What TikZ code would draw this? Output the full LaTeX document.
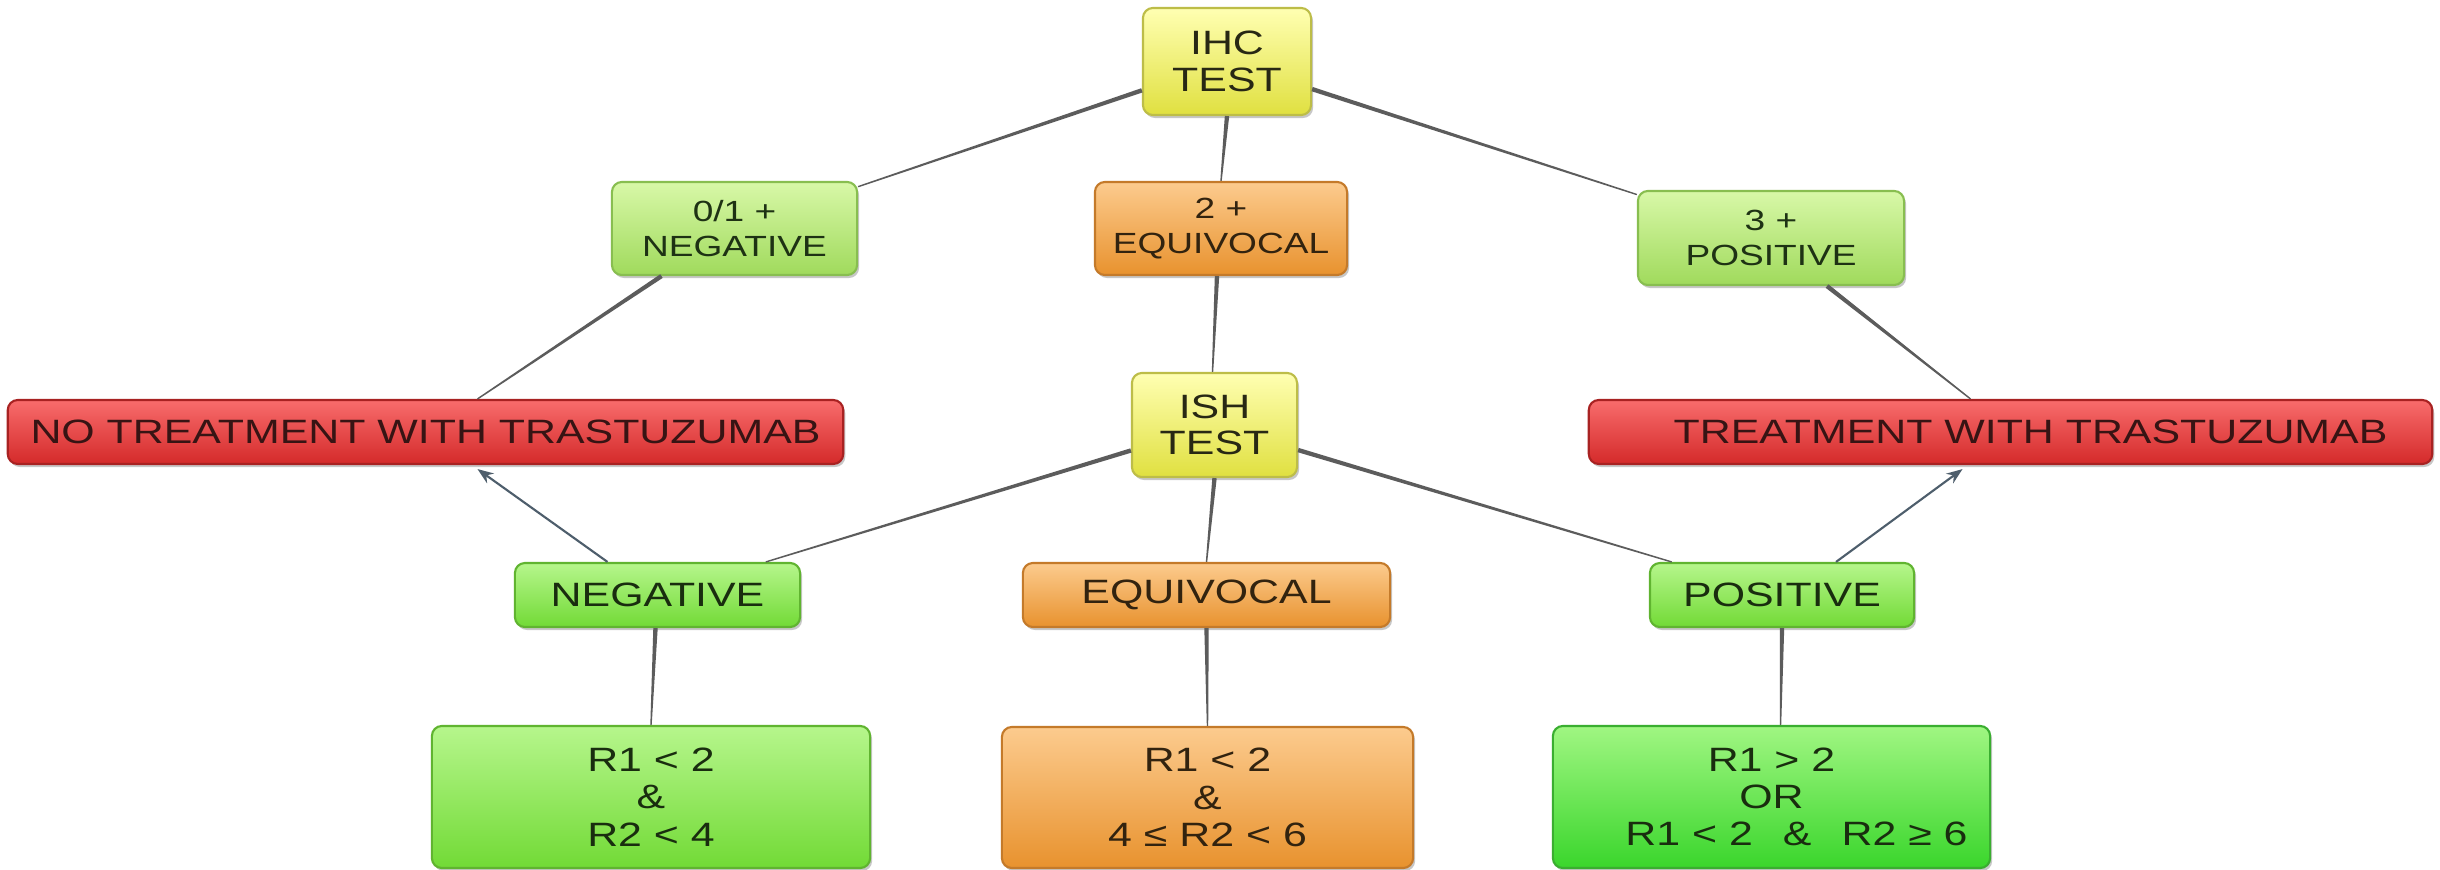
\documentclass[tikz,border=0pt]{standalone}
\usepackage{fontspec}
\setmainfont[FakeStretch=1.27]{Liberation Sans}
\usetikzlibrary{arrows.meta,shadows,calc}

% box fills: light top, darker bottom
\definecolor{ylTop}{HTML}{FFFFB2}
\definecolor{ylMid}{HTML}{F2F26A}
\definecolor{ylBot}{HTML}{E0E040}
\definecolor{ylLine}{HTML}{BDBD48}
\definecolor{lgTop}{HTML}{D8F8A8}
\definecolor{lgMid}{HTML}{B8EC78}
\definecolor{lgBot}{HTML}{A0DA5C}
\definecolor{lgLine}{HTML}{88BE50}
\definecolor{gnTop}{HTML}{B6F68C}
\definecolor{gnMid}{HTML}{8CEA50}
\definecolor{gnBot}{HTML}{72DA36}
\definecolor{gnLine}{HTML}{60B430}
\definecolor{bgTop}{HTML}{A0F682}
\definecolor{bgMid}{HTML}{5AE844}
\definecolor{bgBot}{HTML}{3AD62C}
\definecolor{bgLine}{HTML}{3AAE30}
\definecolor{orTop}{HTML}{FCCB8E}
\definecolor{orMid}{HTML}{F5A955}
\definecolor{orBot}{HTML}{E8922E}
\definecolor{orLine}{HTML}{C47A2A}
\definecolor{rdTop}{HTML}{F86C6C}
\definecolor{rdMid}{HTML}{EC3E3E}
\definecolor{rdBot}{HTML}{D42A2A}
\definecolor{rdLine}{HTML}{A82222}
\definecolor{link}{HTML}{5C5C5C}
\definecolor{arrowc}{HTML}{4E5E6C}

% tapered connector: wide at the parent, narrow at the child
\newcommand\taper[2]{%
  \path (#1) -- (#2) coordinate[pos=0] (tpA) coordinate[pos=1] (tpB);
  \fill[link] ($(tpA)!0.022cm!90:(tpB)$) -- ($(tpA)!0.022cm!-90:(tpB)$)
    -- ($(tpB)!0.007cm!90:(tpA)$) -- ($(tpB)!0.007cm!-90:(tpA)$) -- cycle;}

\tikzset{
  box/.style={rounded corners=0.1cm, draw, line width=0.6pt, align=center,
    inner sep=0pt,
    drop shadow={shadow xshift=0.02cm, shadow yshift=-0.03cm, opacity=0.22, fill=black}},
  ylbox/.style={box, draw=ylLine, top color=ylTop, middle color=ylMid, bottom color=ylBot, text={rgb,255:red,40;green,40;blue,20}},
  lgbox/.style={box, draw=lgLine, top color=lgTop, middle color=lgMid, bottom color=lgBot, text={rgb,255:red,30;green,50;blue,20}},
  gnbox/.style={box, draw=gnLine, top color=gnTop, middle color=gnMid, bottom color=gnBot, text={rgb,255:red,25;green,45;blue,15}},
  bgbox/.style={box, draw=bgLine, top color=bgTop, middle color=bgMid, bottom color=bgBot, text={rgb,255:red,25;green,45;blue,15}},
  orbox/.style={box, draw=orLine, top color=orTop, middle color=orMid, bottom color=orBot, text={rgb,255:red,50;green,35;blue,15}},
  rdbox/.style={box, draw=rdLine, top color=rdTop, middle color=rdMid, bottom color=rdBot, text={rgb,255:red,55;green,20;blue,20}},
  fbig/.style={font=\fontsize{9.6}{10.4}\selectfont},
  fmid/.style={font=\fontsize{8.3}{10}\selectfont},
  fcond/.style={font=\fontsize{9.6}{10.6}\selectfont},
  arr/.style={draw=arrowc, line width=0.6pt, -{Stealth[length=0.16cm, width=0.12cm]}},
}

\begin{document}
\begin{tikzpicture}[x=0.01cm, y=-0.01cm]
\fill[white] (0,0) rectangle (2440,870);
\useasboundingbox (0,0) rectangle (2440,870);

% IHC level
\node[ylbox, fbig, minimum width=1.68cm, minimum height=1.07cm] (ihc) at (1227,61.5) {IHC\\TEST};
\node[lgbox, fmid, minimum width=2.45cm, minimum height=0.93cm] (ihcneg) at (734.5,228.5) {0/1 +\\NEGATIVE};
\node[orbox, fmid, minimum width=2.52cm, minimum height=0.93cm] (ihceq) at (1221,228.5) {2 +\\EQUIVOCAL};
\node[lgbox, fmid, minimum width=2.66cm, minimum height=0.94cm] (ihcpos) at (1771,238) {3 +\\POSITIVE};

% outcomes and ISH test
\node[rdbox, fbig, minimum width=8.35cm, minimum height=0.64cm] (notr) at (425.5,432) {NO TREATMENT WITH TRASTUZUMAB};
\node[ylbox, fbig, minimum width=1.65cm, minimum height=1.04cm] (ish) at (1214.5,425) {ISH\\TEST};
\node[rdbox, fbig, minimum width=8.43cm, minimum height=0.64cm] (tr) at (2010.5,432) {\hspace{0.4cm}TREATMENT WITH TRASTUZUMAB};

% ISH results
\node[gnbox, fbig, minimum width=2.85cm, minimum height=0.64cm] (ishneg) at (657.5,595) {NEGATIVE};
\node[orbox, fbig, minimum width=3.67cm, minimum height=0.64cm] (isheq) at (1206.5,595) {EQUIVOCAL};
\node[gnbox, fbig, minimum width=2.64cm, minimum height=0.64cm] (ishpos) at (1782,595) {POSITIVE};

% ratio criteria
\node[gnbox, fcond, minimum width=4.38cm, minimum height=1.42cm] (cneg) at (651,797) {R1 < 2\\\&\\R2 < 4};
\node[orbox, fcond, minimum width=4.11cm, minimum height=1.41cm] (ceq) at (1207.5,797.5) {R1 < 2\\\&\\4 ≤ R2 < 6};
\node[bgbox, fcond, minimum width=4.37cm, minimum height=1.42cm] (cpos) at (1771.5,797) {R1 > 2\\OR\\\hspace{0.5cm}R1 < 2\hspace{0.3cm}\&\hspace{0.3cm}R2 ≥ 6};

% links
\taper{ihc}{ihcneg}
\taper{ihc.south}{ihceq.north}
\taper{ihc}{ihcpos}
\taper{$(ihcneg.south)+(-73,0)$}{$(notr.north)+(52,0)$}
\taper{$(ihceq.south)+(-4,0)$}{$(ish.north)+(-2,0)$}
\taper{$(ihcpos.south)+(56,0)$}{$(tr.north)+(-40,0)$}
\taper{ish}{ishneg}
\taper{ish.south}{isheq.north}
\taper{ish}{ishpos}
\taper{$(ishneg.south)+(-2,0)$}{cneg.north}
\taper{isheq.south}{ceq.north}
\taper{ishpos.south}{$(cpos.north)+(9,0)$}

% decisions
\draw[arr] ($(ishneg.north)+(-50,0)$) -- ($(notr.south)+(52,4)$);
\draw[arr] ($(ishpos.north)+(54,0)$) -- ($(tr.south)+(-48,4)$);
\end{tikzpicture}
\end{document}
